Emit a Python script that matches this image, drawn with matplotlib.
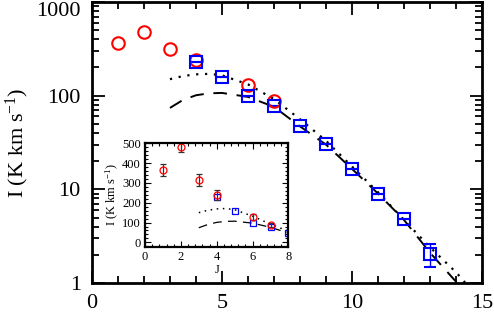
import numpy as np
import matplotlib
matplotlib.use('Agg')
import matplotlib.pyplot as plt
from matplotlib.ticker import MultipleLocator, LogLocator, NullFormatter

plt.rcParams['font.family'] = ['Liberation Serif', 'DejaVu Serif']
plt.rcParams['mathtext.default'] = 'regular'

# observed intensities
j_red = [1, 2, 3, 4, 6, 7]
i_red = [365, 482, 317, 240, 130, 88]
e_red = [30, 27, 30, 25, 15, 10]

j_blue = [4, 5, 6, 7, 8, 9, 10, 11, 12, 13]
i_blue = [228, 160, 100, 77, 47, 30.5, 16.3, 9.0, 4.8, 2.03]
e_lo_blue = [0, 0, 0, 0, 0, 0, 0, 0, 0, 0.53]
e_hi_blue = [0, 0, 0, 0, 0, 0, 0, 0, 0, 0.57]

# model curves
j_mod = [3, 3.5, 4, 4.5, 5, 6, 7, 8, 9, 10, 11, 12, 13, 14, 14.5]
i_dot = [150, 162, 169, 171, 165, 132, 92, 56, 33, 17.5, 9.3, 4.7, 2.4, 1.3, 0.9]
i_dash = [74, 90, 101, 106, 107, 97, 76, 47, 30, 16.5, 9.0, 4.7, 2.1, 1.03, 0.7]

fig = plt.figure(figsize=(4.94, 3.15), dpi=100)
ax = fig.add_axes([0.186, 0.1016, 0.79, 0.892])

ax.plot(j_mod, i_dot, color='black', linestyle=(0, (1, 3)), lw=1.6)
ax.plot(j_mod, i_dash, color='black', linestyle=(0, (7, 5)), lw=1.4)
ax.errorbar(j_blue, i_blue, yerr=[e_lo_blue, e_hi_blue], fmt='s', mfc='none',
            mec='blue', ecolor='blue', ms=9, mew=1.5, elinewidth=1, capsize=4)
ax.plot(j_red, i_red, 'o', mfc='none', mec='red', ms=9, mew=1.5)

ax.set_yscale('log')
ax.set_xlim(0, 15)
ax.set_ylim(1, 1000)
ax.xaxis.set_major_locator(MultipleLocator(5))
ax.xaxis.set_minor_locator(MultipleLocator(1))
ax.yaxis.set_major_locator(LogLocator(base=10))
ax.yaxis.set_minor_locator(LogLocator(base=10, subs=np.arange(2, 10)))
ax.yaxis.set_minor_formatter(NullFormatter())
ax.set_yticks([1, 10, 100, 1000])
ax.set_yticklabels(['1', '10', '100', '1000'])
ax.tick_params(which='both', direction='in', top=True, right=True, labelsize=16, width=1.3, pad=8)
ax.tick_params(which='major', length=9)
ax.tick_params(which='minor', length=5)
ax.get_yticklabels()[-1].set_verticalalignment('top')
for s in ax.spines.values():
    s.set_linewidth(2)
ax.set_ylabel('I (K km s$^{-1}$)', fontsize=16, labelpad=4)

# inset in linear scale
axi = fig.add_axes([0.2935, 0.2168, 0.2905, 0.328])
axi.plot(j_mod, i_dot, color='black', linestyle=(0, (1, 3)), lw=1.1)
axi.plot(j_mod, i_dash, color='black', linestyle=(0, (7, 5)), lw=0.9)
axi.plot(j_blue, i_blue, 's', mfc='none', mec='blue', ms=5, mew=0.9)
axi.errorbar(j_red, i_red, yerr=e_red, fmt='o', mfc='none', mec='red', ms=5,
             mew=0.9, ecolor='#333333', elinewidth=0.9, capsize=2.5)
axi.set_xlim(0, 8)
axi.set_ylim(-22, 500)
axi.xaxis.set_major_locator(MultipleLocator(2))
axi.xaxis.set_minor_locator(MultipleLocator(0.4))
axi.yaxis.set_major_locator(MultipleLocator(100))
axi.yaxis.set_minor_locator(MultipleLocator(20))
axi.tick_params(which='both', direction='in', top=True, right=True, labelsize=9, width=0.8, pad=3)
axi.tick_params(which='major', length=4)
axi.tick_params(which='minor', length=2)
for s in axi.spines.values():
    s.set_linewidth(1.6)
axi.set_xlabel('J', fontsize=9, labelpad=1)
axi.set_ylabel('I (K km s$^{-1}$)', fontsize=9, labelpad=1)

fig.savefig('out.png', dpi=100)
